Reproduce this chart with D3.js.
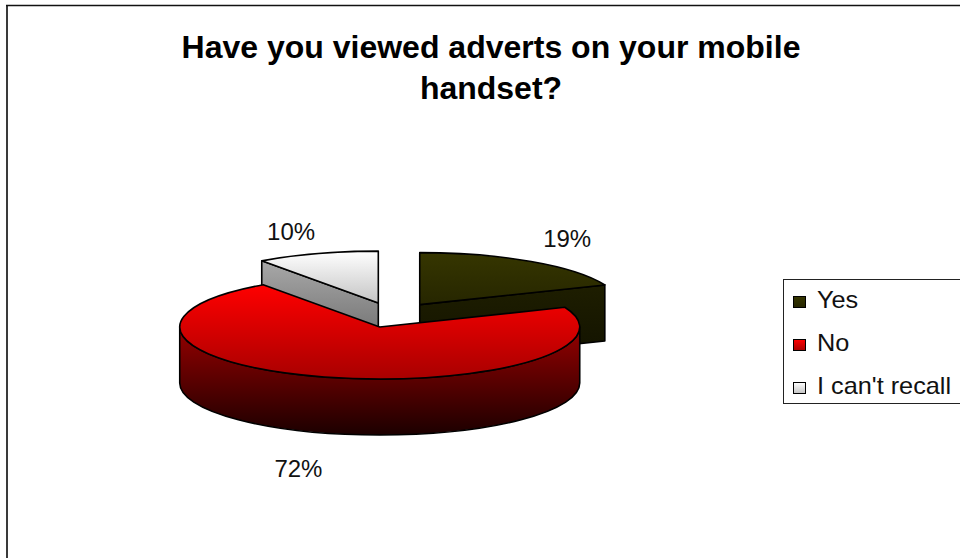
<!DOCTYPE html>
<html>
<head>
<meta charset="utf-8">
<script src="https://cdn.jsdelivr.net/npm/d3@7"></script>
<style>
  html, body { margin: 0; padding: 0; background: #fff; }
  svg { display: block; font-family: Arial, "Liberation Sans", Helvetica, sans-serif; }
</style>
</head>
<body>
<svg id="chart" width="960" height="558"></svg>
<script>
// Survey answers
const titleLines = ["Have you viewed adverts on your mobile", "handset?"];
const categories = ["Yes", "No", "I can't recall"];
const values = [19, 72, 10];
const valueLabels = ["19%", "72%", "10%"];

// Face shading per category: [top-face top, top-face bottom, wall top, wall bottom]
const shades = [
  ["#363600", "#262600", "#1e1e00", "#121200"],
  ["#ff0000", "#a80000", "#960000", "#1c0000"],
  ["#ffffff", "#c4c4c4", "#a8a8a8", "#646464"]
];

const svg = d3.select("#chart");
const W = 960, H = 558;

// Outer frame (runs past the right and bottom edges)
svg.append("line").attr("x1", 7).attr("x2", 7).attr("y1", 5).attr("y2", H)
  .attr("stroke", "#3a3a3a").attr("stroke-width", 2);
svg.append("line").attr("x1", 6).attr("x2", W).attr("y1", 5.5).attr("y2", 5.5)
  .attr("stroke", "#111").attr("stroke-width", 1.3);

// Title
svg.append("text")
  .attr("text-anchor", "middle")
  .attr("font-weight", "bold").attr("font-size", 32)
  .selectAll("tspan").data(titleLines).join("tspan")
  .attr("x", 491).attr("y", (d, i) => 58 + i * 41)
  .text(d => d);

// Gradients
const defs = svg.append("defs");
shades.forEach((s, i) => {
  const g1 = defs.append("linearGradient").attr("id", "top" + i)
    .attr("x1", 0).attr("y1", 0).attr("x2", 0).attr("y2", 1);
  g1.append("stop").attr("offset", 0).attr("stop-color", s[0]);
  g1.append("stop").attr("offset", 1).attr("stop-color", s[1]);
  const g2 = defs.append("linearGradient").attr("id", "wall" + i)
    .attr("x1", 0).attr("y1", 0).attr("x2", 0).attr("y2", 1);
  g2.append("stop").attr("offset", 0).attr("stop-color", s[2]);
  g2.append("stop").attr("offset", 1).attr("stop-color", s[3]);
});

// 3-D pie geometry
const cx = 393, cy = 315;      // pie centre before explosion
const rx = 200, ry = 52;       // ellipse radii of the tilted disc
const depth = 56;              // thickness of the disc
const explode = 48;            // distance each slice is pulled out

const pie = d3.pie().sort(null).startAngle(0).endAngle(2 * Math.PI);
const arcs = pie(values);

// angle measured clockwise from 12 o'clock
const pt = (o, a, dy = 0) => [o[0] + rx * Math.sin(a), o[1] - ry * Math.cos(a) + dy];

const slices = arcs.map((d, i) => {
  const mid = (d.startAngle + d.endAngle) / 2;
  const apex = [cx + explode * Math.sin(mid), cy - explode * (ry / rx) * Math.cos(mid)];
  return { ...d, i, mid, apex };
});

function ellipseArc(o, a0, a1, dy, sweep) {
  // split into pieces no longer than 90 degrees to keep arc flags simple
  const steps = Math.max(1, Math.ceil(Math.abs(a1 - a0) / (Math.PI / 2)));
  let s = "";
  for (let k = 1; k <= steps; k++) {
    const a = a0 + (a1 - a0) * k / steps;
    const p = pt(o, a, dy);
    s += `A${rx},${ry} 0 0 ${sweep} ${p[0]},${p[1]}`;
  }
  return s;
}

function topPath(s) {
  const p0 = pt(s.apex, s.startAngle);
  return `M${s.apex[0]},${s.apex[1]}L${p0[0]},${p0[1]}` +
    ellipseArc(s.apex, s.startAngle, s.endAngle, 0, 1) + "Z";
}

function radialWall(s, a) {
  const A = s.apex, P = pt(A, a);
  return `M${A[0]},${A[1]}L${P[0]},${P[1]}L${P[0]},${P[1] + depth}L${A[0]},${A[1] + depth}Z`;
}

function outerWall(s, a0, a1) {
  const p0 = pt(s.apex, a0), p1d = pt(s.apex, a1, depth);
  return `M${p0[0]},${p0[1]}` + ellipseArc(s.apex, a0, a1, 0, 1) +
    `L${p1d[0]},${p1d[1]}` + ellipseArc(s.apex, a1, a0, depth, 0) + "Z";
}

// Which faces of a slice turn toward the viewer
function faces(s) {
  const out = [];
  const nStart = s.startAngle - Math.PI / 2, nEnd = s.endAngle + Math.PI / 2;
  if (Math.cos(nStart) < -1e-6) out.push(radialWall(s, s.startAngle));
  if (Math.cos(nEnd) < -1e-6) out.push(radialWall(s, s.endAngle));
  const lo = Math.max(s.startAngle, Math.PI / 2), hi = Math.min(s.endAngle, 3 * Math.PI / 2);
  if (hi > lo) out.push(outerWall(s, lo, hi));
  return out;
}

// Paint back slices first (those whose middle points away from the viewer)
const order = slices.slice().sort((a, b) => Math.cos(b.mid) - Math.cos(a.mid));

const pieG = svg.append("g");
order.forEach(s => {
  const g = pieG.append("g");
  faces(s).forEach(d => g.append("path").attr("d", d)
    .attr("fill", `url(#wall${s.i})`).attr("stroke", "#000")
    .attr("stroke-width", 1.6).attr("stroke-linejoin", "round"));
  g.append("path").attr("d", topPath(s))
    .attr("fill", `url(#top${s.i})`).attr("stroke", "#000")
    .attr("stroke-width", 1.6).attr("stroke-linejoin", "round");
});

// Value labels placed beside the rim point at each slice's middle angle
svg.append("g").selectAll("text").data(slices).join("text")
  .each(function (s, i) {
    const back = Math.cos(s.mid) > 0, right = Math.sin(s.mid) > 0;
    const p = pt(s.apex, s.mid, back ? 0 : depth);
    d3.select(this)
      .attr("x", p[0] + (right ? 12 : -2))
      .attr("y", back ? p[1] - 14 : p[1] + 44)
      .attr("text-anchor", right ? "start" : "end");
  })
  .attr("font-size", 24)
  .attr("fill", "#111")
  .text((s, i) => valueLabels[i]);

// Legend
const legend = svg.append("g");
legend.append("rect").attr("x", 783.5).attr("y", 279.5).attr("width", 300).attr("height", 124)
  .attr("fill", "#fff").attr("stroke", "#222").attr("stroke-width", 1);
const item = legend.selectAll("g.item").data(categories).join("g")
  .attr("transform", (d, i) => `translate(793,${308 + i * 43})`);
item.append("rect").attr("x", 0.5).attr("y", -11.5).attr("width", 12).attr("height", 11)
  .attr("fill", (d, i) => `url(#top${i})`).attr("stroke", "#000").attr("stroke-width", 1);
item.append("text").attr("transform", "translate(24,0) scale(1.1,1)")
  .attr("font-size", 23).attr("fill", "#111")
  .text(d => d);
</script>
</body>
</html>
